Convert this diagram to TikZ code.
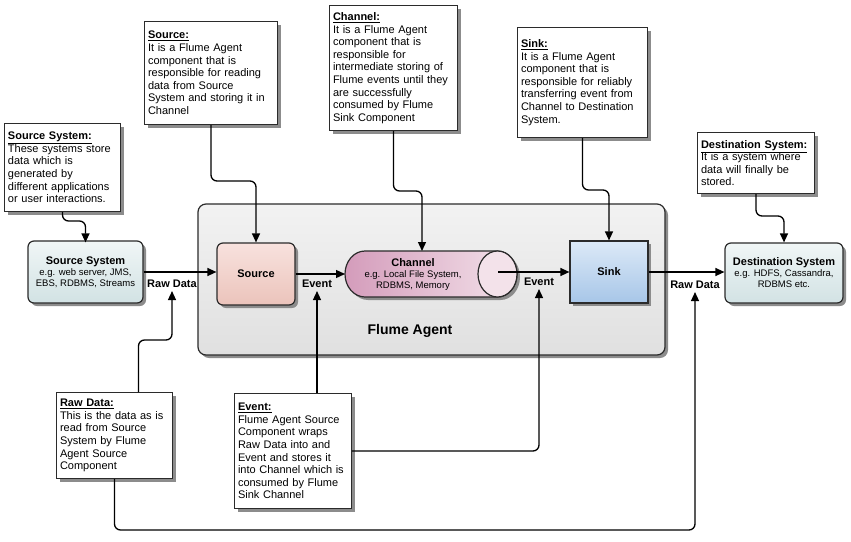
\documentclass[tikz,border=0pt]{standalone}
\usepackage{fontspec}
\setmainfont{Liberation Sans}
\usetikzlibrary{arrows.meta,shadows,calc}
\definecolor{edge}{HTML}{2B2B2B}
\definecolor{ssTop}{HTML}{F0F6F6}
\definecolor{ssBot}{HTML}{D2E2E4}
\definecolor{srcTop}{HTML}{F8E2DE}
\definecolor{srcBot}{HTML}{EBC3BB}
\definecolor{skTop}{HTML}{DCE9F7}
\definecolor{skBot}{HTML}{A7C6E8}
\definecolor{chLeft}{HTML}{D49CBB}
\definecolor{chMid}{HTML}{DEB0C9}
\definecolor{chRight}{HTML}{F3E2EA}
\definecolor{agTop}{HTML}{F2F2F2}
\definecolor{agBot}{HTML}{E0E0E0}
\tikzset{
  shad/.style={drop shadow={shadow xshift=3pt,shadow yshift=-3pt,fill=black!45,opacity=1}},
  note/.style={draw=edge,line width=1pt,fill=white,anchor=north west,align=left,
    inner xsep=3.5pt,inner ysep=2pt,font=\fontsize{11}{12.6}\selectfont,shad},
  comptext/.style={align=center,font=\fontsize{9.5}{11}\selectfont},
  comp/.style={comptext,draw=edge,line width=1.2pt,shad},
  conn/.style={draw=black,line width=1.3pt,rounded corners=6pt,
    -{Triangle[length=9pt,width=8pt]}},
  lbl/.style={font=\bfseries\fontsize{11}{13}\selectfont,inner xsep=1.5pt,inner ysep=3pt}
}
\newcommand{\comptitle}[1]{{\fontsize{11}{13}\selectfont\bfseries #1}}
\newcommand{\notetitle}[1]{\underline{\textbf{#1}}}
\begin{document}
\begin{tikzpicture}[x=1pt,y=-1pt]
\fill[white] (0,0) rectangle (851,541);
\useasboundingbox (0,0) rectangle (851,541);

% Flume agent container
\node[draw=edge,line width=1.2pt,rounded corners=8pt,minimum width=467pt,minimum height=151pt,
  top color=agTop,bottom color=agBot,shad] (agent) at (431.5,279.5) {};
\node[font=\bfseries\fontsize{14}{16}\selectfont] (agentlbl) at (410,331) {Flume Agent};

% components
\node[comp,rounded corners=6pt,minimum width=115pt,minimum height=62pt,top color=ssTop,bottom color=ssBot]
  (ss) at (85.5,272) {\comptitle{Source System}\\e.g. web server, JMS,\\EBS, RDBMS, Streams};
\node[comp,rounded corners=6pt,minimum width=78pt,minimum height=62pt,top color=srcTop,bottom color=srcBot]
  (source) at (256,274) {\comptitle{Source}};
\node[comp,minimum width=78pt,minimum height=62pt,top color=skTop,bottom color=skBot]
  (sink) at (609,272) {\comptitle{Sink}};
\node[comp,rounded corners=6pt,minimum width=118pt,minimum height=60pt,top color=ssTop,bottom color=ssBot]
  (ds) at (784,273) {\comptitle{Destination System}\\e.g. HDFS, Cassandra,\\RDBMS etc.};

% channel cylinder
\path[draw=edge,line width=1.2pt,left color=chLeft,middle color=chMid,right color=chRight,shad]
  (365,251) -- (497.5,251) arc[start angle=-90,end angle=90,x radius=19.5,y radius=23]
  -- (365,297) arc[start angle=90,end angle=270,x radius=20,y radius=23] -- cycle;
\draw[draw=edge,line width=1.2pt,fill=chRight] (497.5,274) ellipse[x radius=19.5,y radius=23];
\node[comptext] (channel) at (413,274) {\comptitle{Channel}\\e.g. Local File System,\\RDBMS, Memory};
\coordinate (chL) at (345,274);
\coordinate (chTop) at (422,251);
\coordinate (chOut) at (498,272);

% notes
\node[note,text width=109pt,minimum height=88pt] (ssnote) at (4,123)
  {\notetitle{Source System:}\\These systems store\\data which is\\generated by\\different applications\\or user interactions.};
\node[note,text width=126pt,minimum height=103pt] (srcnote) at (144,21)
  {\notetitle{Source:}\\It is a Flume Agent\\component that is\\responsible for reading\\data from Source\\System and storing it in\\Channel};
\node[note,text width=121pt,minimum height=125pt] (chnote) at (329,5)
  {\notetitle{Channel:}\\It is a Flume Agent\\component that is\\responsible for\\intermediate storing of\\Flume events until they\\are successfully\\consumed by Flume\\Sink Component};
\node[note,text width=123pt,minimum height=110pt] (sinknote) at (517,27)
  {\notetitle{Sink:}\\It is a Flume Agent\\component that is\\responsible for reliably\\transferring event from\\Channel to Destination\\System.};
\node[note,text width=110pt,minimum height=61pt] (dsnote) at (697,132)
  {\notetitle{Destination System:}\\It is a system where\\data will finally be\\stored.};
\node[note,text width=109pt,minimum height=86pt] (rawnote) at (56,392)
  {\notetitle{Raw Data:}\\This is the data as is\\read from Source\\System by Flume\\Agent Source\\Component};
\node[note,text width=110pt,minimum height=115pt] (evnote) at (234,393)
  {\notetitle{Event:}\\Flume Agent Source\\Component wraps\\Raw Data into and\\Event and stores it\\into Channel which is\\consumed by Flume\\Sink Channel};

% labels
\node[lbl] (rd1) at (172,284) {Raw Data};
\node[lbl] (evl1) at (317,284) {Event};
\node[lbl] (evl2) at (539,282) {Event};
\node[lbl] (rd2) at (695,285) {Raw Data};
\coordinate (bot) at (0,530);

% main flow
\draw[conn] (ss.east) -- (ss.east -| source.west);
\draw[conn] (source.east) -- (chL);
\draw[conn] (chOut) -- (chOut -| sink.west);
\draw[conn] (sink.east) -- (sink.east -| ds.west);

% note connectors
\draw[conn] (ssnote.south) -- ++(0,9) -| (ds.north -| ss.north);
\draw[conn] (srcnote.south) -- ++(0,56) -| (source.north);
\draw[conn] (chnote.south) -- ++(0,60) -| (chTop);
\draw[conn] (sinknote.south) -- ++(0,52) -| (sink.north);
\draw[conn] (dsnote.south) -- ++(0,22) -| (ds.north);
\draw[conn] ([xshift=24pt]rawnote.north) -- ++(0,-52) -| (rd1.south);
\draw[conn] (rawnote.south) -- (rawnote.south |- bot) -| (rd2.south);
\draw[conn] (evl1.south |- evnote.north) -- (evl1.south);
\draw[conn] (evnote.east) -| (evl2.south);
\end{tikzpicture}
\end{document}
